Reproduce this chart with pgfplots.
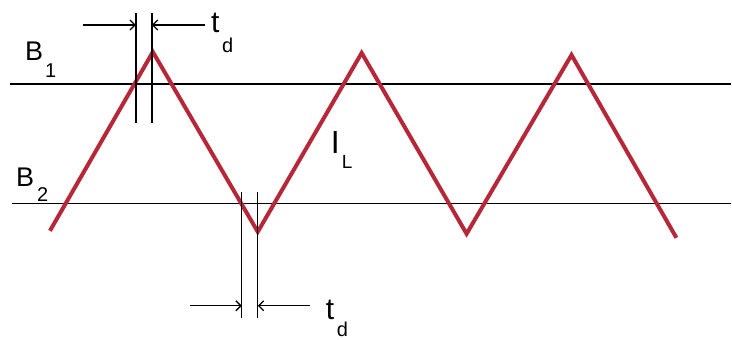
\documentclass[border=0pt]{standalone}
\usepackage{fontspec}
\setmainfont{Liberation Sans}
\usepackage{pgfplots}
\pgfplotsset{compat=1.18}
\usetikzlibrary{arrows.meta}
\definecolor{wave}{RGB}{182,40,56}
\begin{document}
\begin{tikzpicture}
\begin{axis}[width=732pt,height=340pt,scale only axis,
  xmin=0,xmax=732,ymin=0,ymax=340,y dir=reverse,hide axis,clip=false]
\path (axis cs:0,0) (axis cs:732,340);
% horizontal levels
\addplot[black,line width=1.3pt] coordinates {(10,84) (732,84)};
\addplot[black,line width=1.3pt] coordinates {(12,204) (732,204)};
% inductor current
\addplot[wave,line width=4pt,line join=miter] coordinates {
(50,231) (153,52) (258,232) (362,53) (467,234) (572,55) (677,238)};
% delay markers
\addplot[black,line width=1.3pt] coordinates {(136,13) (136,123)};
\addplot[black,line width=1.3pt] coordinates {(152,13) (152,123)};
\addplot[black,line width=1.3pt] coordinates {(242,192) (242,318)};
\addplot[black,line width=1.3pt] coordinates {(258,192) (258,318)};
\addplot[black,line width=1.3pt,-{Straight Barb[length=5pt,width=10pt]}] coordinates {(83,25) (136,25)};
\addplot[black,line width=1.3pt,-{Straight Barb[length=5pt,width=10pt]}] coordinates {(205,25) (152,25)};
\addplot[black,line width=1.3pt,-{Straight Barb[length=5pt,width=10pt]}] coordinates {(190,306) (242,306)};
\addplot[black,line width=1.3pt,-{Straight Barb[length=5pt,width=10pt]}] coordinates {(310,306) (258,306)};
% labels
\node[anchor=base west,inner sep=0,font=\fontsize{27}{27}\selectfont] at (axis cs:25,61) {B};
\node[anchor=base west,inner sep=0,font=\fontsize{20}{20}\selectfont] at (axis cs:45,78) {1};
\node[anchor=base west,inner sep=0,font=\fontsize{27}{27}\selectfont] at (axis cs:16,187) {B};
\node[anchor=base west,inner sep=0,font=\fontsize{20}{20}\selectfont] at (axis cs:37,202) {2};
\node[anchor=base west,inner sep=0,font=\fontsize{32}{32}\selectfont] at (axis cs:331,154) {I};
\node[anchor=base west,inner sep=0,font=\fontsize{19}{19}\selectfont] at (axis cs:342,169) {L};
\node[anchor=base west,inner sep=0,font=\fontsize{30}{30}\selectfont] at (axis cs:211,33) {t};
\node[anchor=base west,inner sep=0,font=\fontsize{20}{20}\selectfont] at (axis cs:222,53) {d};
\node[anchor=base west,inner sep=0,font=\fontsize{30}{30}\selectfont] at (axis cs:326,320) {t};
\node[anchor=base west,inner sep=0,font=\fontsize{20}{20}\selectfont] at (axis cs:337,337) {d};
\end{axis}
\end{tikzpicture}
\end{document}
